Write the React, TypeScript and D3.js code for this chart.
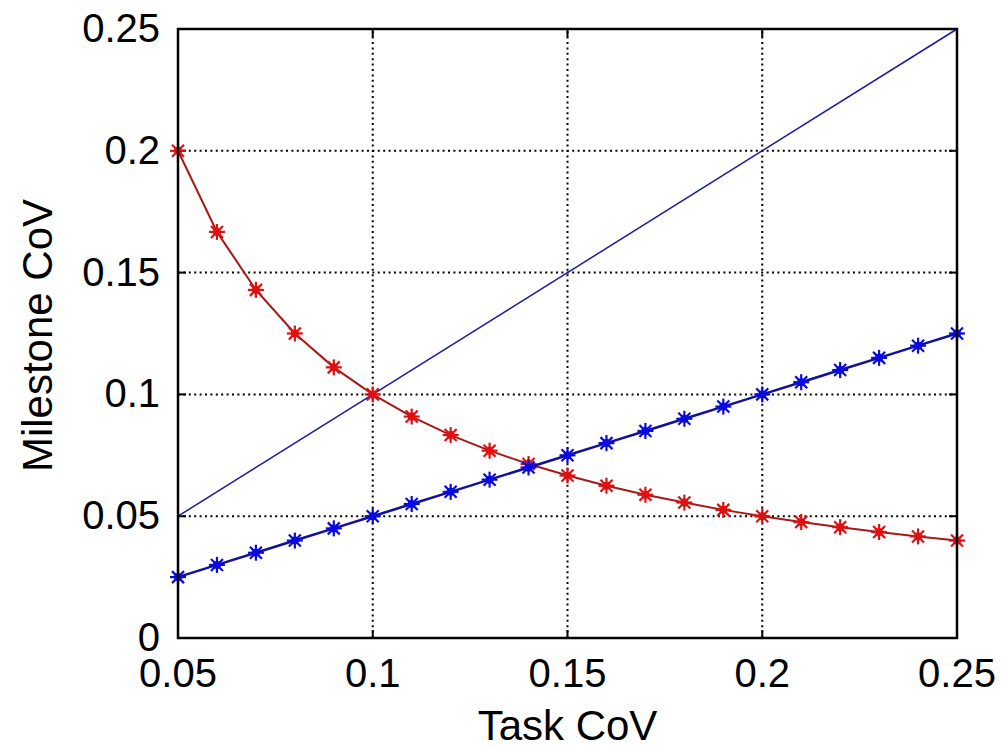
import React from "react";
import * as d3 from "d3";

const taskCoV = [0.05, 0.06, 0.07, 0.08, 0.09, 0.1, 0.11, 0.12, 0.13, 0.14, 0.15, 0.16, 0.17, 0.18, 0.19, 0.2, 0.21, 0.22, 0.23, 0.24, 0.25];
const redSeries = [0.2, 0.1667, 0.1429, 0.125, 0.1111, 0.1, 0.0909, 0.0833, 0.0769, 0.0714, 0.0667, 0.0625, 0.0588, 0.0556, 0.0526, 0.05, 0.0476, 0.0455, 0.0435, 0.0417, 0.04];
const blueSeries = [0.025, 0.03, 0.035, 0.04, 0.045, 0.05, 0.055, 0.06, 0.065, 0.07, 0.075, 0.08, 0.085, 0.09, 0.095, 0.1, 0.105, 0.11, 0.115, 0.12, 0.125];
const diagX = [0.05, 0.25];
const diagY = [0.05, 0.25];
const xTicks = [0.05, 0.1, 0.15, 0.2, 0.25];
const xTickLabels = ["0.05", "0.1", "0.15", "0.2", "0.25"];
const yTicks = [0, 0.05, 0.1, 0.15, 0.2, 0.25];
const yTickLabels = ["0", "0.05", "0.1", "0.15", "0.2", "0.25"];
const xLabel = "Task CoV";
const yLabel = "Milestone CoV";

const L = 178, R = 957, T = 29, B = 638;
const FONT = "'Liberation Sans', Arial, sans-serif";

function Star({ x, y, color }: { x: number; y: number; color: string }) {
  const s = 8, d = 6;
  return (
    <g stroke={color} strokeWidth={2.2}>
      <line x1={x - s} y1={y} x2={x + s} y2={y} />
      <line x1={x} y1={y - s} x2={x} y2={y + s} />
      <line x1={x - d} y1={y - d} x2={x + d} y2={y + d} />
      <line x1={x - d} y1={y + d} x2={x + d} y2={y - d} />
      <circle cx={x} cy={y} r={4} fill={color} stroke="none" />
    </g>
  );
}

export default function App() {
  const x = d3.scaleLinear().domain([0.05, 0.25]).range([L, R]);
  const y = d3.scaleLinear().domain([0, 0.25]).range([B, T]);
  const line = d3.line<[number, number]>().x((d) => x(d[0])).y((d) => y(d[1]));
  const redPts: [number, number][] = taskCoV.map((t, i) => [t, redSeries[i]]);
  const bluePts: [number, number][] = taskCoV.map((t, i) => [t, blueSeries[i]]);
  const diagPts: [number, number][] = diagX.map((t, i) => [t, diagY[i]]);
  const tk = 8;
  return (
    <svg width={1001} height={749} style={{ position: "absolute", left: 0, top: 0, background: "#fff" }}>
      <rect x={0} y={0} width={1001} height={749} fill="#fff" />
      {/* grid */}
      <g stroke="#000" strokeWidth={2} strokeDasharray="2,3.4">
        {xTicks.slice(1, -1).map((t) => (
          <line key={"gx" + t} x1={x(t)} x2={x(t)} y1={B} y2={T} />
        ))}
        {yTicks.slice(1, -1).map((t) => (
          <line key={"gy" + t} x1={L} x2={R} y1={y(t)} y2={y(t)} />
        ))}
      </g>
      {/* ticks */}
      <g stroke="#000" strokeWidth={2}>
        {xTicks.map((t) => (
          <g key={"tx" + t}>
            <line x1={x(t)} x2={x(t)} y1={B} y2={B - tk} />
            <line x1={x(t)} x2={x(t)} y1={T} y2={T + tk} />
          </g>
        ))}
        {yTicks.map((t) => (
          <g key={"ty" + t}>
            <line x1={L} x2={L + tk} y1={y(t)} y2={y(t)} />
            <line x1={R} x2={R - tk} y1={y(t)} y2={y(t)} />
          </g>
        ))}
      </g>
      {/* data */}
      <path d={line(diagPts) || ""} fill="none" stroke="#1a1a9e" strokeWidth={1.5} />
      <path d={line(redPts) || ""} fill="none" stroke="#a81818" strokeWidth={2} />
      {redPts.map((p, i) => (
        <Star key={"r" + i} x={x(p[0])} y={y(p[1])} color="#e01010" />
      ))}
      <path d={line(bluePts) || ""} fill="none" stroke="#10109a" strokeWidth={2.5} />
      {bluePts.map((p, i) => (
        <Star key={"b" + i} x={x(p[0])} y={y(p[1])} color="#0a0ae0" />
      ))}
      {/* box */}
      <rect x={L} y={T} width={R - L} height={B - T} fill="none" stroke="#000" strokeWidth={2.5} />
      {/* tick labels */}
      <g fontFamily={FONT} fontSize={40} fill="#000">
        {xTicks.map((t, i) => (
          <text key={"lx" + t} x={x(t)} y={687} textAnchor="middle">
            {xTickLabels[i]}
          </text>
        ))}
        {yTicks.map((t, i) => (
          <text key={"ly" + t} x={160} y={y(t) + 13} textAnchor="end">
            {yTickLabels[i]}
          </text>
        ))}
        <text x={x(0.15)} y={740} textAnchor="middle" fontSize={42}>{xLabel}</text>
        <text transform={`translate(52,${(T + B) / 2 + 2}) rotate(-90)`} textAnchor="middle" fontSize={42}>{yLabel}</text>
      </g>
    </svg>
  );
}
